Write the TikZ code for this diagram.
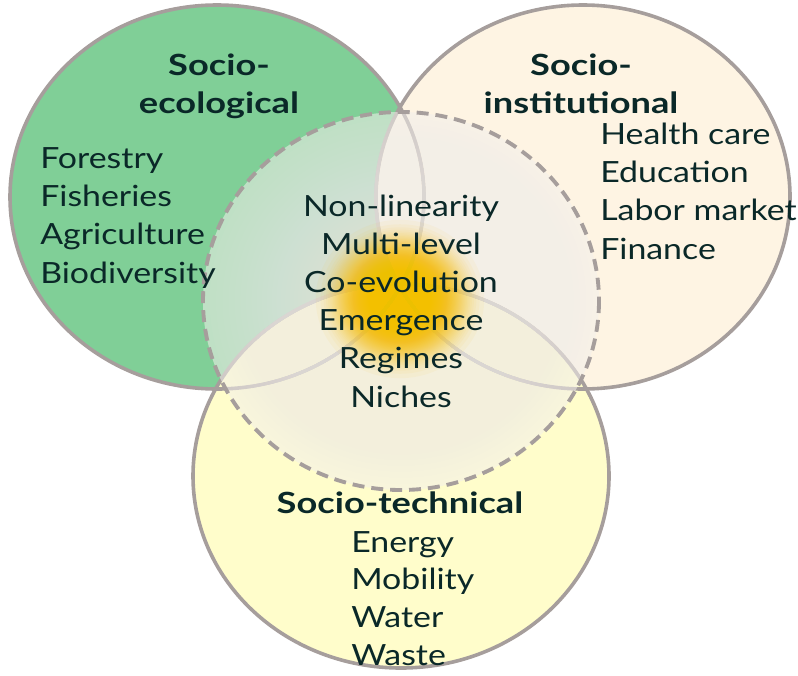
\documentclass[tikz,border=0pt]{standalone}
\usepackage{fontspec}
\setmainfont{Lato}[FakeStretch=1.16,BoldFeatures={FakeStretch=1.24}]
\definecolor{ecogreen}{RGB}{128,207,151}
\definecolor{instbeige}{RGB}{254,244,227}
\definecolor{techyellow}{RGB}{255,253,203}
\definecolor{rimgray}{RGB}{166,158,156}
\definecolor{overlaygray}{RGB}{243,239,235}
\definecolor{glowor}{RGB}{255,192,0}
\definecolor{inkteal}{RGB}{10,40,40}
\begin{document}
\begin{tikzpicture}[x=0.75pt,y=-0.75pt,
  rim/.style={draw=rimgray,line width=2.7pt},
  txt/.style={inner sep=0pt,text=inkteal,font=\fontsize{21.9pt}{29pt}\selectfont},
  ttl/.style={inner sep=0pt,text=inkteal,font=\fontsize{21.9pt}{29pt}\selectfont\bfseries}]
\useasboundingbox (0,0) rectangle (798,675);
% fills
\fill[ecogreen] (217,197) ellipse [x radius=207,y radius=192];
\fill[instbeige] (583,197) ellipse [x radius=207,y radius=192];
\fill[techyellow] (401,476) ellipse [x radius=208,y radius=192];
% rims
\draw[rim] (217,197) ellipse [x radius=207,y radius=192];
\draw[rim] (583,197) ellipse [x radius=207,y radius=192];
\draw[rim] (401,476) ellipse [x radius=208,y radius=192];
% central overlay: base layer plus stacked layers
\fill[overlaygray,fill opacity=0.55] (401,301) ellipse [x radius=198,y radius=189];
\foreach \m in {1,...,60}{
  \pgfmathsetmacro\op{1-0.45*0.96^\m}
  \pgfmathsetmacro\f{pow(max((0.96-\op)/0.41,0.001),1/1.3)}
  \fill[overlaygray,fill opacity=0.04] (401,301) ellipse [x radius={198*\f},y radius={189*\f}];
}
% glow
\foreach \k in {1,...,74}{
  \pgfmathsetmacro\g{pow(max(-ln(min(max((1-0.95^\k)/0.98,0.0001),1)),0.00001),1/4.46)}
  \fill[glowor,fill opacity=0.05] (400,299) ellipse [x radius={66*\g},y radius={62*\g}];
}
\draw[rimgray,line width=2.9pt,dash pattern=on 9pt off 5.2pt] (401,301) ellipse [x radius=198,y radius=189];
% titles
\node[ttl,anchor=base] (t1a) at (219,75) {Socio-};
\node[ttl,anchor=base] (t1b) at (219,113) {ecological};
\node[ttl,anchor=base] (t2a) at (581,75) {Socio-};
\node[ttl,anchor=base] (t2b) at (581,113) {institutional};
\node[ttl,anchor=base] (t3) at (400,513) {Socio-technical};
% lists
\foreach \t [count=\i] in {Forestry,Fisheries,Agriculture,Biodiversity}
  \node[txt,anchor=base west] (eco\i) at (40,{168+38.4*(\i-1)}) {\t};
\foreach \t [count=\i] in {Health care,Education,Labor market,Finance}
  \node[txt,anchor=base west] (ins\i) at (600,{144+38.4*(\i-1)}) {\t};
\foreach \t [count=\i] in {Non-linearity,Multi-level,Co-evolution,Emergence,Regimes,Niches}
  \node[txt,anchor=base] (mid\i) at (401,{216+38.2*(\i-1)}) {\t};
\foreach \t [count=\i] in {Energy,Mobility,Water,Waste}
  \node[txt,anchor=base west] (tec\i) at (351,{552+37.7*(\i-1)}) {\t};
\end{tikzpicture}
\end{document}
